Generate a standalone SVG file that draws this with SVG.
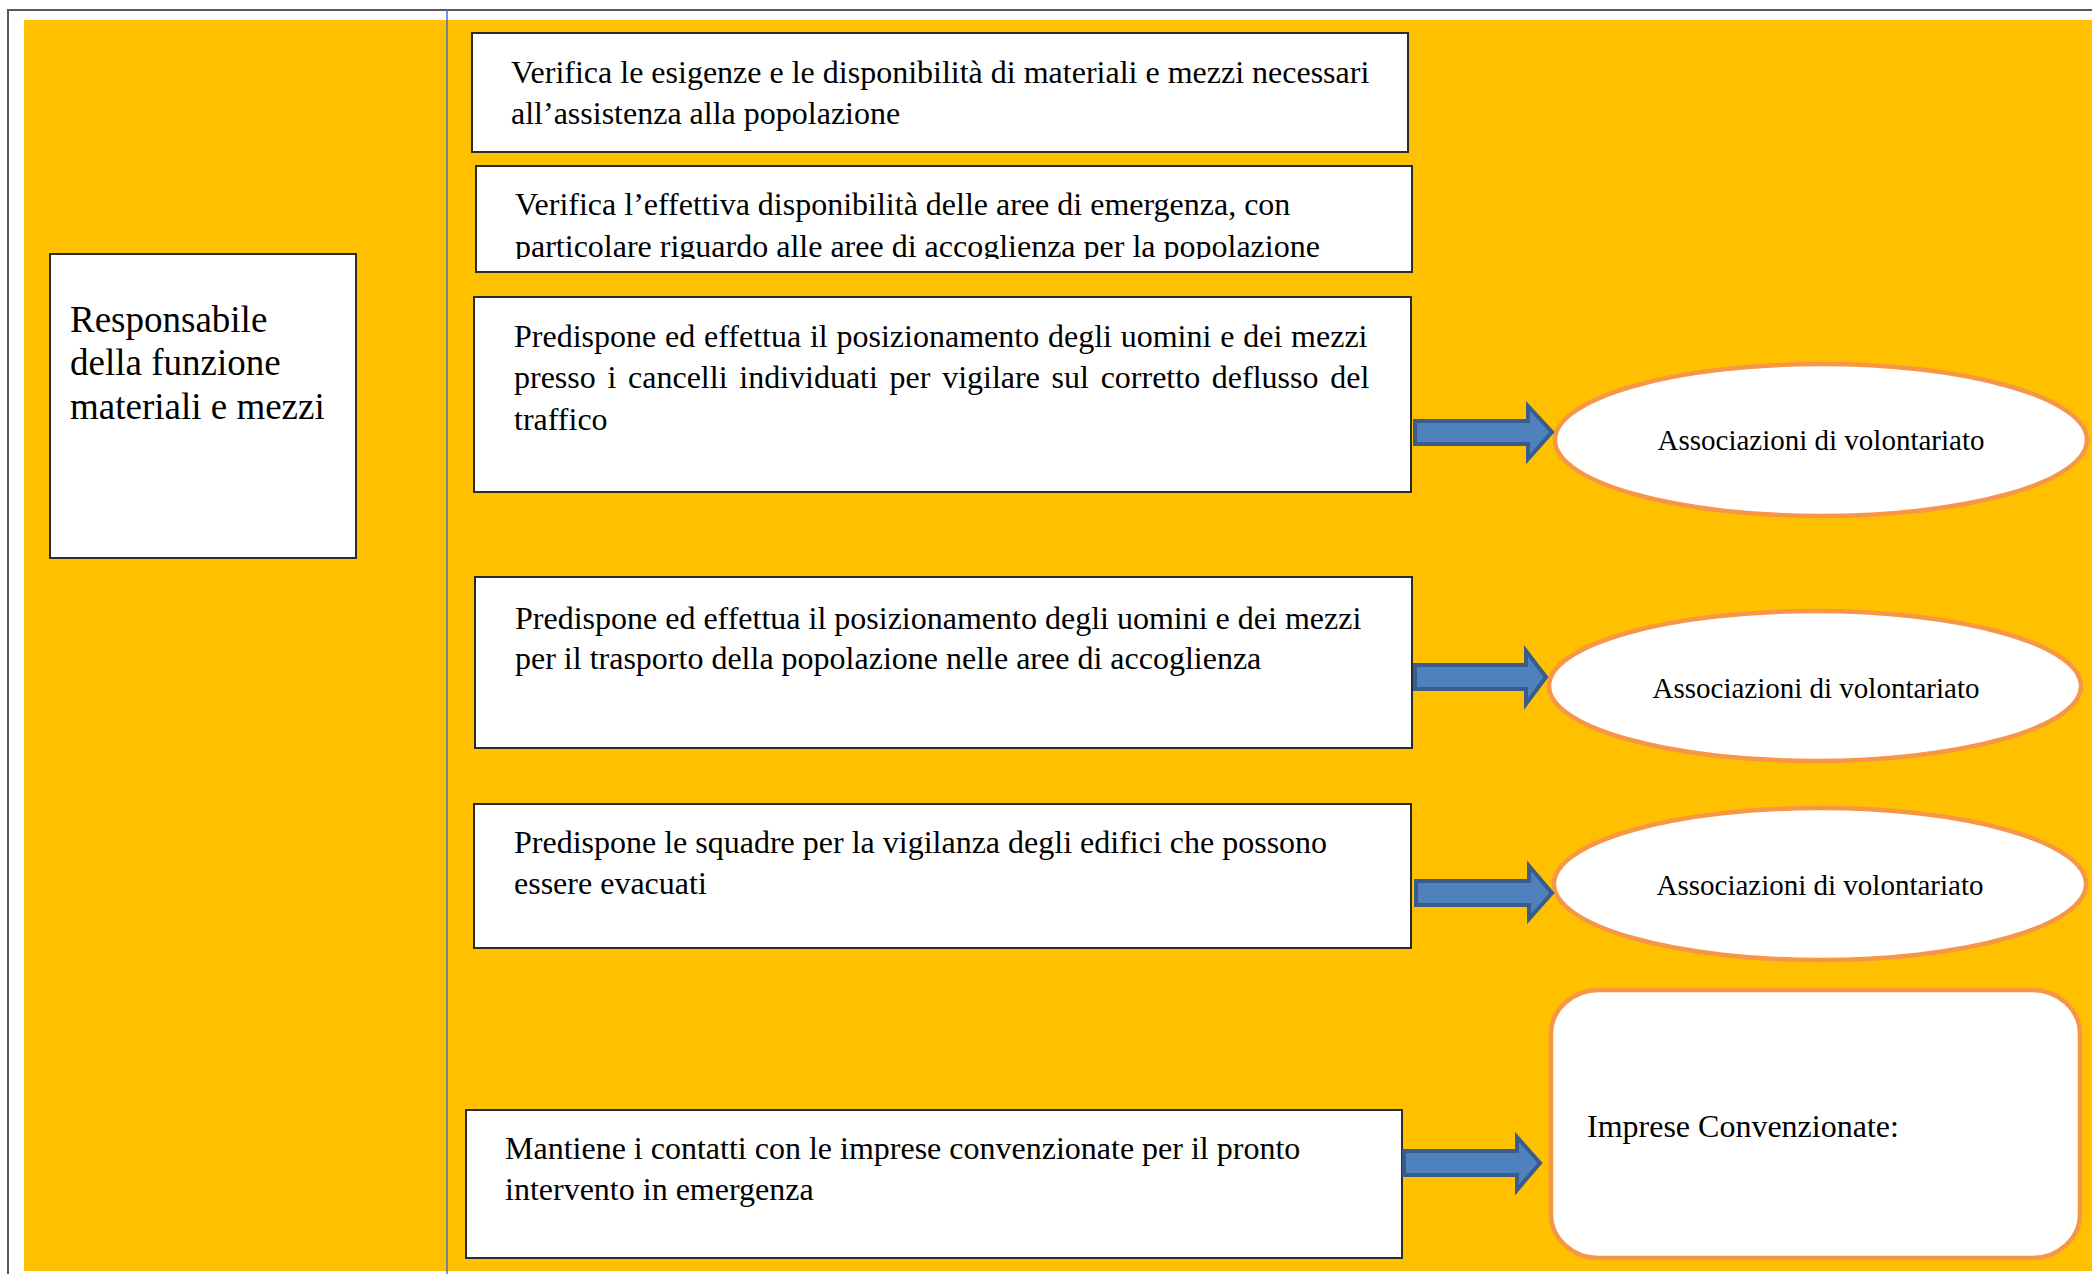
<svg xmlns="http://www.w3.org/2000/svg" width="2092" height="1274" viewBox="0 0 2092 1274">
<style>
.box{fill:#fff;stroke:#2b2b2b;stroke-width:2}
.t{font-family:"Liberation Serif","Times New Roman",serif;font-size:32px;fill:#000}
.et{font-family:"Liberation Serif","Times New Roman",serif;font-size:29px;fill:#000;text-anchor:middle}
.ell{fill:#fff;stroke:#F79646;stroke-width:4.5}
.arr{fill:#4F81BD;stroke:#385D8A;stroke-width:4;stroke-linejoin:miter}
</style>
<defs>
<clipPath id="c2"><rect x="476" y="166" width="936" height="93"/></clipPath>
</defs>
<rect x="0" y="0" width="2092" height="1274" fill="#fff"/>
<rect x="24" y="20" width="2068" height="1251" fill="#FFC000"/>
<path d="M8 1274 V10 H2092" fill="none" stroke="#595959" stroke-width="2"/>
<line x1="447" y1="10" x2="447" y2="1274" stroke="#4472C4" stroke-width="1.5"/>

<g id="responsabile">
<rect class="box" x="50" y="254" width="306" height="304"/>
<text font-family="Liberation Serif, Times New Roman, serif" font-size="37" x="70" y="332">Responsabile</text>
<text font-family="Liberation Serif, Times New Roman, serif" font-size="37" x="70" y="375">della funzione</text>
<text font-family="Liberation Serif, Times New Roman, serif" font-size="37" x="70" y="419">materiali e mezzi</text>
</g>

<g id="box1">
<rect class="box" x="472" y="33" width="936" height="119"/>
<text class="t" x="511" y="83">Verifica le esigenze e le disponibilità di materiali e mezzi necessari</text>
<text class="t" x="511" y="124">all’assistenza alla popolazione</text>
</g>

<g id="box2">
<rect class="box" x="476" y="166" width="936" height="106"/>
<g clip-path="url(#c2)">
<text class="t" x="515" y="215">Verifica l’effettiva disponibilità delle aree di emergenza, con</text>
<text class="t" x="515" y="257">particolare riguardo alle aree di accoglienza per la popolazione</text>
</g>
</g>

<g id="box3">
<rect class="box" x="474" y="297" width="937" height="195"/>
<text class="t" x="514" y="347" word-spacing="0.8">Predispone ed effettua il posizionamento degli uomini e dei mezzi</text>
<text class="t" x="514" y="388" word-spacing="3.7">presso i cancelli individuati per vigilare sul corretto deflusso del</text>
<text class="t" x="514" y="430">traffico</text>
</g>

<g id="box4">
<rect class="box" x="475" y="577" width="937" height="171"/>
<text class="t" x="515" y="629">Predispone ed effettua il posizionamento degli uomini e dei mezzi</text>
<text class="t" x="515" y="669">per il trasporto della popolazione nelle aree di accoglienza</text>
</g>

<g id="box5">
<rect class="box" x="474" y="804" width="937" height="144"/>
<text class="t" x="514" y="853">Predispone le squadre per la vigilanza degli edifici che possono</text>
<text class="t" x="514" y="894">essere evacuati</text>
</g>

<g id="box6">
<rect class="box" x="466" y="1110" width="936" height="148"/>
<text class="t" x="505" y="1159">Mantiene i contatti con le imprese convenzionate per il pronto</text>
<text class="t" x="505" y="1200">intervento in emergenza</text>
</g>

<g id="assoc1">
<ellipse class="ell" cx="1821" cy="440" rx="266" ry="76"/>
<text class="et" x="1821" y="450">Associazioni di volontariato</text>
</g>

<g id="assoc2">
<ellipse class="ell" cx="1815" cy="686" rx="266" ry="75"/>
<text class="et" x="1816" y="698">Associazioni di volontariato</text>
</g>

<g id="assoc3">
<ellipse class="ell" cx="1820" cy="884" rx="266" ry="76"/>
<text class="et" x="1820" y="895">Associazioni di volontariato</text>
</g>

<g id="imprese">
<rect x="1551" y="990" width="529" height="268" rx="48" ry="44" fill="#fff" stroke="#F79646" stroke-width="4.5"/>
<text class="t" x="1587" y="1137">Imprese Convenzionate:</text>
</g>

<g id="connectors">
<polygon class="arr" points="1415,421 1528,421 1528,406 1552,432 1528,459 1528,444 1415,444"/>
<polygon class="arr" points="1415,665 1526,665 1526,651 1546,677 1526,704 1526,689 1415,689"/>
<polygon class="arr" points="1416,881 1529,881 1529,866 1552,893 1529,919 1529,905 1416,905"/>
<polygon class="arr" points="1404,1151 1517,1151 1517,1137 1540,1163 1517,1190 1517,1175 1404,1175"/>
</g>
</svg>
